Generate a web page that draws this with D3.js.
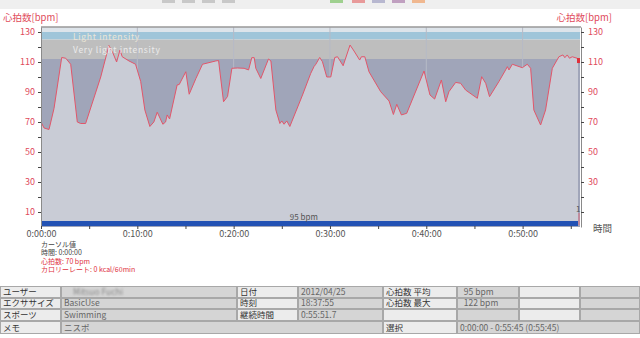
<!DOCTYPE html>
<html>
<head>
<meta charset="utf-8">
<script src="https://cdn.jsdelivr.net/npm/d3@7/dist/d3.min.js"></script>
<style>
  body { margin: 0; background: #fff; }
  svg text { font-family: "Noto Sans CJK JP", "DejaVu Sans", sans-serif; }
</style>
</head>
<body>
<svg id="svg" width="640" height="338"></svg>
<script>
// heart rate samples, seconds from start / bpm
var times = [0, 19, 50, 81, 129, 154, 185, 226, 247, 278, 372, 423, 448, 471, 492, 506, 548, 589, 621, 647,
  678, 703, 724, 759, 776, 786, 801, 848, 861, 902, 923, 965, 1006, 1089, 1106, 1137, 1162, 1189, 1224, 1265,
  1293, 1313, 1328, 1338, 1369, 1417, 1432, 1463, 1488, 1500, 1514, 1531, 1550, 1629, 1680, 1701, 1712, 1736, 1753, 1780,
  1805, 1830, 1847, 1882, 1925, 1950, 1985, 1996, 2017, 2043, 2116, 2168, 2195, 2216, 2245, 2278, 2386, 2423, 2452, 2494,
  2521, 2541, 2583, 2614, 2645, 2718, 2745, 2770, 2794, 2852, 2894, 2905, 2915, 2936, 2998, 3029, 3050, 3070, 3112, 3143,
  3185, 3226, 3251, 3263, 3278, 3292, 3309, 3340, 3345];
var hr = [70, 66, 65, 79, 113, 112.5, 108.5, 70, 69, 69, 100, 121, 116, 110, 118, 113.5, 110.7, 108.5, 97, 78,
  67, 70, 76.5, 68.5, 70, 74.7, 72, 94.7, 95, 103.5, 88.5, 99, 108.5, 110.7, 111, 83.5, 87, 105.8, 106, 105.8,
  104.7, 112.9, 112.9, 105.8, 99, 112, 110.7, 78, 69, 70.7, 68.5, 70.7, 67, 88, 102.4, 107, 108.5, 113, 110.2, 100,
  100, 113, 113.5, 107.5, 121.3, 117.3, 111.3, 113.5, 113.5, 103.5, 90.2, 84, 75, 81.8, 74.7, 75.8, 104, 88, 85.3, 98,
  83.5, 90.2, 96.4, 95.8, 91.3, 85.8, 100.2, 95.8, 86.9, 96.9, 104.7, 106.9, 104.7, 108.5, 106.2, 108.5, 105.8, 78, 68, 78,
  105.8, 113.5, 114.7, 112.9, 114.7, 112.5, 113.5, 112.5, 111.3];

var zoneNames = ["", "Light intensity", "Very light intensity", ""];
var zoneLow = [130, 125, 112, 0];
var zoneHigh = [134, 130, 125, 112];
var zoneColors = ["#dde4ea", "#9fc5d9", "#bebebe", "#a0a5b9"];

var yTicks = d3.range(10, 131, 10);
var xTicks = d3.range(0, 3345, 300);
var avgLabel = "95 bpm";

var cursorLines = ["カーソル値", "時間: 0:00:00", "心拍数: 70 bpm", "カロリーレート: 0 kcal/60min"];

var tableRows = [
  ["ユーザー", "Mitsuo Fuchi", "日付", "2012/04/25", "心拍数 平均", "  95 bpm", "", ""],
  ["エクササイズ", "BasicUse", "時刻", "18:37:55", "心拍数 最大", "  122 bpm", "", ""],
  ["スポーツ", "Swimming", "継続時間", "0:55:51.7", "", "", "", ""],
  ["メモ", "ニスポ", null, null, "選択", "0:00:00 - 0:55:45 (0:55:45)", null, null]
];

var svg = d3.select("#svg");

var plotL = 41, plotR = 580, plotT = 27, plotB = 226;

var x = d3.scaleLinear().domain([0, 3345]).range([41, 578]);
var y = d3.scaleLinear().domain([0, 133.33]).range([227, 27]);

// top toolbar strip
svg.append("rect").attr("x", 0).attr("y", 0).attr("width", 640).attr("height", 9).attr("fill", "#efefef");
var btns = [[162, "#c8c8c8"], [182, "#c8c8c8"], [202, "#c8c8c8"], [222, "#c8c8c8"],
  [330, "#9fd08f"], [352, "#e89a9a"], [372, "#b8b8d0"], [392, "#c0a0c0"], [412, "#f0b890"]];
btns.forEach(function(b) {
  svg.append("rect").attr("x", b[0]).attr("y", 0).attr("width", 13).attr("height", 3).attr("fill", b[1]);
});

// zone bands
zoneLow.forEach(function(lo, i) {
  var top = Math.max(y(zoneHigh[i]), plotT);
  svg.append("rect")
    .attr("x", plotL).attr("y", top)
    .attr("width", plotR - plotL).attr("height", y(lo) - top)
    .attr("fill", zoneColors[i]);
});

// vertical grid
svg.selectAll(".grid").data(d3.range(600, 3345, 600)).enter().append("line")
  .attr("x1", function(d) { return x(d); }).attr("x2", function(d) { return x(d); })
  .attr("y1", plotT).attr("y2", plotB)
  .attr("stroke", "#b6bac6").attr("stroke-width", 1);

var pts = times.map(function(t, i) { return [t, hr[i]]; });

var area = d3.area()
  .x(function(d) { return x(d[0]); })
  .y0(plotB)
  .y1(function(d) { return y(d[1]); });

var line = d3.line()
  .x(function(d) { return x(d[0]); })
  .y(function(d) { return y(d[1]); });

svg.append("path").datum(pts).attr("d", area).attr("fill", "#c9ccd6");
svg.append("path").datum(pts).attr("d", line)
  .attr("fill", "none").attr("stroke", "#e2566a").attr("stroke-width", 1);

// zone labels
zoneNames.forEach(function(n, i) {
  if (!n) return;
  svg.append("text")
    .attr("x", 73).attr("y", i == 1 ? 39.5 : 53)
    .attr("font-size", 8.5).attr("letter-spacing", 0.7)
    .attr("fill", i == 1 ? "#ece6d6" : "#ececec")
    .text(n);
});

// activity bar at the bottom
svg.append("rect").attr("x", plotL).attr("y", 221).attr("width", x(3345) - plotL).attr("height", 5).attr("fill", "#2352b4");
svg.append("text").attr("x", x(1500) + 22).attr("y", 219.5)
  .attr("text-anchor", "middle").attr("font-size", 8).attr("fill", "#555").text(avgLabel);

// plot frame top
svg.append("line").attr("x1", plotL).attr("x2", plotR + 1).attr("y1", plotT).attr("y2", plotT)
  .attr("stroke", "#999").attr("stroke-width", 1.5);

// axes
var yLeft = svg.append("g").attr("transform", "translate(" + plotL + ",0)")
  .call(d3.axisLeft(y).tickValues(yTicks).tickSize(3).tickSizeOuter(0)
    .tickFormat(function(d) { return d % 20 == 10 ? d : ""; }));
var yRight = svg.append("g").attr("transform", "translate(" + (plotR + 1) + ",0)")
  .call(d3.axisRight(y).tickValues(yTicks).tickSize(3).tickSizeOuter(0)
    .tickFormat(function(d) { return (d % 20 == 10 && d > 10) ? d : ""; }));
var xAxis = svg.append("g").attr("transform", "translate(0," + plotB + ")")
  .call(d3.axisBottom(x).tickValues(xTicks).tickSize(3).tickSizeOuter(0)
    .tickFormat(function(d) { return d % 600 == 0 ? "0:" + d3.format("02")(d / 60) + ":00" : ""; }));

[yLeft, yRight, xAxis].forEach(function(g) {
  g.select(".domain").attr("stroke", "#8a8a8a");
  g.selectAll(".tick line").attr("stroke", "#444");
});
yLeft.selectAll("text").attr("fill", "#e04a5a").attr("font-size", 9).attr("x", -6);
yRight.selectAll("text").attr("fill", "#e04a5a").attr("font-size", 9).attr("x", 7);
xAxis.selectAll("text").attr("fill", "#555").attr("font-size", 9).attr("y", 5);
xAxis.select(".domain").remove();

// small cursor markers on the right axis
svg.append("rect").attr("x", 577).attr("y", y(111.3) - 2).attr("width", 3).attr("height", 5).attr("fill", "#e0303a");
svg.append("line").attr("x1", 579).attr("x2", 579).attr("y1", 213).attr("y2", 225).attr("stroke", "#e07080");
svg.append("text").attr("x", 576).attr("y", 212).attr("font-size", 8).attr("fill", "#555").text("1");

svg.append("text").attr("x", 3).attr("y", 21).attr("font-size", 9.5).attr("fill", "#e04a5a").text("心拍数[bpm]");
svg.append("text").attr("x", 612).attr("y", 21).attr("text-anchor", "end").attr("font-size", 9.5).attr("fill", "#e04a5a").text("心拍数[bpm]");
svg.append("text").attr("x", 593).attr("y", 232).attr("font-size", 9.5).attr("fill", "#555").text("時間");

// cursor readout
cursorLines.forEach(function(s, i) {
  svg.append("text").attr("x", 41).attr("y", 246.5 + i * 8.5)
    .attr("font-size", 7).attr("fill", i < 2 ? "#444" : "#e03040").text(s);
});

// info table
var defs = svg.append("defs");
defs.append("filter").attr("id", "blur").append("feGaussianBlur").attr("stdDeviation", 1.3);

var colX = [0, 61, 237, 298, 383, 457, 519, 580, 640];
var rowY = [286, 298, 309, 321, 334];
var tbl = svg.append("g");
tableRows.forEach(function(row, r) {
  row.forEach(function(cell, c) {
    if (cell === null) return;
    var span = 1;
    while (c + span < row.length && row[c + span] === null) span++;
    var x0 = colX[c], x1 = colX[c + span];
    tbl.append("rect").attr("x", x0 + 0.5).attr("y", rowY[r] + 0.5)
      .attr("width", x1 - x0 - 1).attr("height", rowY[r + 1] - rowY[r] - 1)
      .attr("fill", c % 2 == 0 ? "#ececec" : "#d5d5d5")
      .attr("stroke", "#a8a8a8").attr("stroke-width", 1);
    if (cell) {
      var t = tbl.append("text").attr("x", x0 + 3).attr("y", rowY[r + 1] - 3)
        .attr("font-size", 8.5).attr("xml:space", "preserve")
        .attr("fill", c % 2 == 0 ? "#333" : "#666").text(cell);
      if (r == 0 && c == 1) t.attr("filter", "url(#blur)").attr("fill", "#888").attr("x", x0 + 12);
    }
  });
});
</script>
</body>
</html>
